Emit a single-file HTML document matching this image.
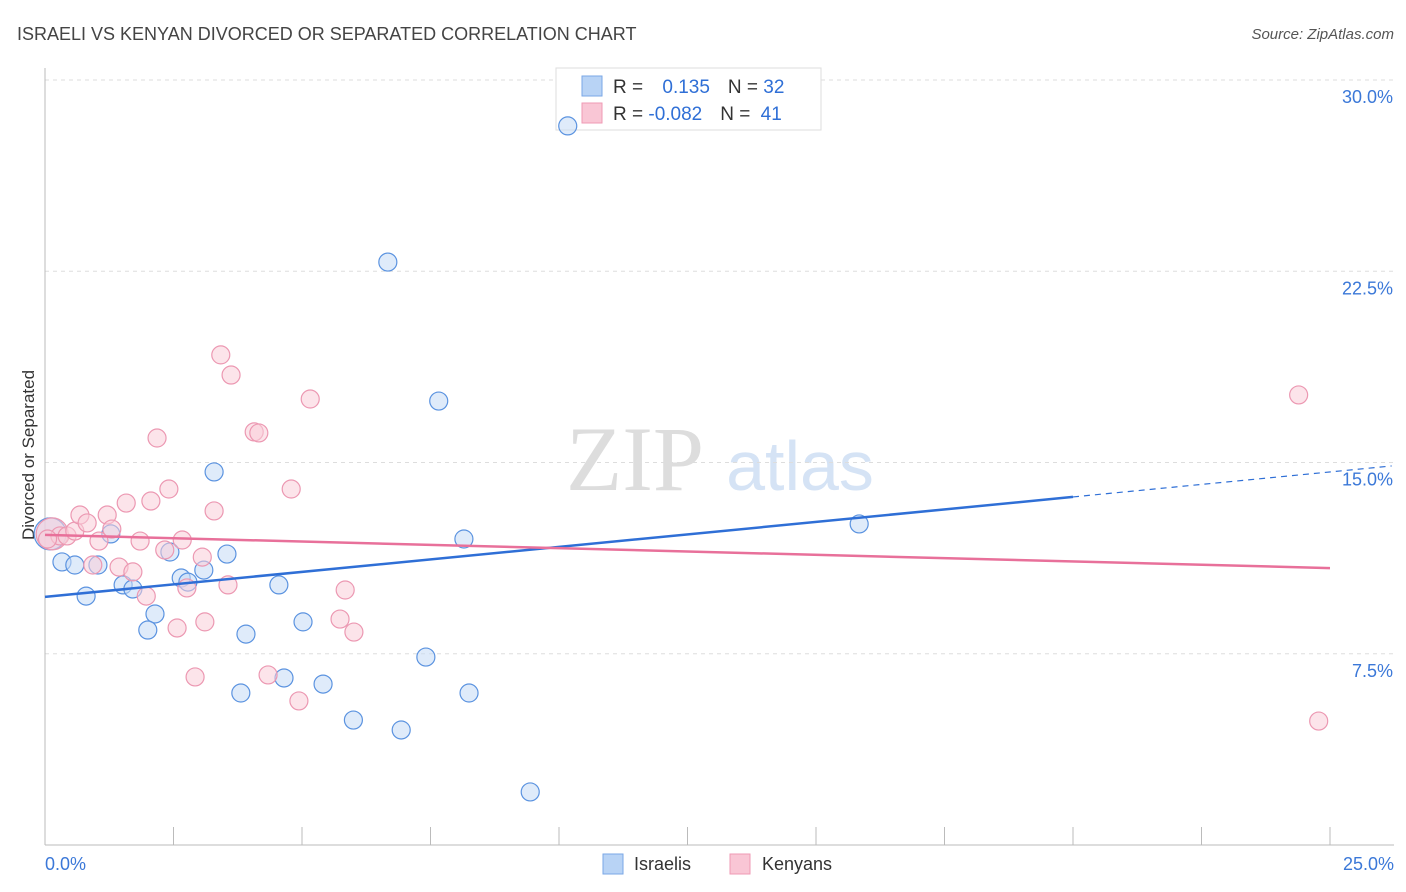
<!DOCTYPE html>
<html><head><meta charset="utf-8"><style>
body{margin:0;background:#fff;font-family:"Liberation Sans",sans-serif}
svg{display:block}
</style></head><body>
<svg id="c" width="1406" height="892" xmlns="http://www.w3.org/2000/svg">
<text x="17" y="40" font-size="18" fill="#444">ISRAELI VS KENYAN DIVORCED OR SEPARATED CORRELATION CHART</text>
<text x="1394" y="39" font-size="15" fill="#555" font-style="italic" text-anchor="end">Source: ZipAtlas.com</text>
<text x="34" y="455" font-size="17" fill="#333" text-anchor="middle" transform="rotate(-90 34 455)">Divorced or Separated</text>
<g><text x="635" y="490" font-size="92" fill="#ddd" font-family="Liberation Serif,serif" text-anchor="middle">ZIP</text><text x="800" y="490" font-size="70" fill="#d5e3f5" text-anchor="middle">atlas</text></g>
<g id="grid"></g>
<g>
<rect x="556" y="68" width="265" height="62" fill="#fff" stroke="#ddd"/>
<rect x="582" y="76" width="20" height="20" fill="#b8d3f5" stroke="#7aa7e6"/>
<rect x="582" y="103" width="20" height="20" fill="#f9c6d5" stroke="#ef9ab4"/>
<text x="613" y="93" font-size="19" fill="#333">R = <tspan fill="#2f6fd6" dx="14">0.135</tspan><tspan dx="18" fill="#333">N = </tspan><tspan fill="#2f6fd6">32</tspan></text>
<text x="613" y="120" font-size="19" fill="#333">R = <tspan fill="#2f6fd6">-0.082</tspan><tspan dx="18" fill="#333">N = </tspan><tspan fill="#2f6fd6" dx="5">41</tspan></text>
</g>
<g id="pts"></g><g id="lines"></g>
<g>
<rect x="603" y="854" width="20" height="20" fill="#b8d3f5" stroke="#7aa7e6"/>
<text x="634" y="870" font-size="18" fill="#333">Israelis</text>
<rect x="730" y="854" width="20" height="20" fill="#f9c6d5" stroke="#ef9ab4"/>
<text x="762" y="870" font-size="18" fill="#333">Kenyans</text>
</g>
</svg>
<script>
const yTicks=[7.5,15,22.5,30];
const yTickLabels=["7.5%","15.0%","22.5%","30.0%"];
const israelisX=[0.1,0.33,0.58,1.03,0.8,1.28,1.52,1.71,2.14,2.0,2.43,2.65,2.78,3.09,3.54,3.29,3.91,3.81,4.55,4.65,5.02,5.41,6.0,6.67,6.93,7.41,7.66,8.25,8.15,9.44,10.17,15.84];
const israelisY=[12.2,11.1,10.98,10.98,9.76,12.2,10.2,10.04,9.06,8.43,11.49,10.47,10.31,10.78,11.41,14.63,8.27,5.96,10.2,6.55,8.75,6.31,4.90,22.86,4.51,7.37,17.41,5.96,12.0,2.08,28.2,12.59];
const kenyansX=[0.14,0.29,0.43,0.58,0.68,0.82,0.93,1.05,1.21,1.3,1.44,1.58,1.71,1.85,1.97,2.06,2.18,2.33,2.41,2.57,2.67,2.76,2.92,3.06,3.11,3.29,3.42,3.56,3.62,4.07,4.16,4.34,4.79,4.94,5.16,5.74,5.84,6.01,24.39,24.78,0.05];
const kenyansY=[12.2,12.12,12.12,12.31,12.94,12.63,10.98,11.92,12.94,12.39,10.9,13.41,10.71,11.92,9.76,13.49,15.96,11.57,13.96,8.51,11.96,10.08,6.59,11.29,8.75,13.1,19.22,10.2,18.43,16.2,16.16,6.67,13.96,5.65,17.49,8.86,10.0,8.35,17.65,4.86,12.0];
const blueTrend=[9.73,13.65], pinkTrend=[12.16,10.86];
const X=v=>45+v*51.4, Y=v=>845-v*25.5;
const NS="http://www.w3.org/2000/svg";
function mk(t,a,p){const e=document.createElementNS(NS,t);for(const k in a)e.setAttribute(k,a[k]);p.appendChild(e);return e;}
const svg=document.getElementById('c'),grid=document.getElementById('grid'),pts=document.getElementById('pts'),lines=document.getElementById('lines');
yTicks.forEach((t,i)=>{
 const l=mk('line',{x1:45,x2:1394,y1:Y(t),y2:Y(t),stroke:'#ddd','stroke-dasharray':'4 4'},grid);
 
 
 const tx=mk('text',{x:1393,y:Y(t)+23,'font-size':18,fill:'#3b78d8','text-anchor':'end'},grid);
 tx.textContent=yTickLabels[i];
 
 
});
const ax=mk('line',{x1:45,x2:45,y1:68,y2:845,stroke:'#bbb'},grid);


const bx=mk('line',{x1:45,x2:1394,y1:845,y2:845,stroke:'#bbb'},grid);


for(let i=1;i<=10;i++){const t=mk('line',{x1:45+i*128.5,x2:45+i*128.5,y1:827,y2:845,stroke:'#bbb'},grid);
 
 }
[["0.0%",45,'start'],["25.0%",1394,'end']].forEach(a=>{const t=mk('text',{x:a[1],y:870,'font-size':18,fill:'#3b78d8','text-anchor':a[2]},grid);t.textContent=a[0];
 
 });
function dots(xs,ys,fill,stroke,name){xs.forEach((x,i)=>{const big=(i==0);
 const c=mk('circle',{cx:X(x),cy:Y(ys[i]),r:big?16:9,fill:fill,'fill-opacity':big?0.6:0.55,stroke:stroke,'stroke-width':1.2},pts);
 
 });}
dots(israelisX,israelisY,'#c5daf5','#5b93e0','israelis-point');
dots(kenyansX,kenyansY,'#f9cdd9','#ec98b2','kenyans-point');
const bt=v=>blueTrend[0]+(blueTrend[1]-blueTrend[0])*v/20;
const l1=mk('line',{x1:X(0),y1:Y(bt(0)),x2:X(20),y2:Y(bt(20)),stroke:'#2f6fd6','stroke-width':2.5},lines);


const l2=mk('line',{x1:X(20),y1:Y(bt(20)),x2:X(26.2),y2:Y(bt(26.2)),stroke:'#2f6fd6','stroke-width':1.2,'stroke-dasharray':'6 5'},lines);


const l3=mk('line',{x1:X(0),y1:Y(pinkTrend[0]),x2:X(25),y2:Y(pinkTrend[1]),stroke:'#e8709a','stroke-width':2.5},lines);


</script>
</body></html>
